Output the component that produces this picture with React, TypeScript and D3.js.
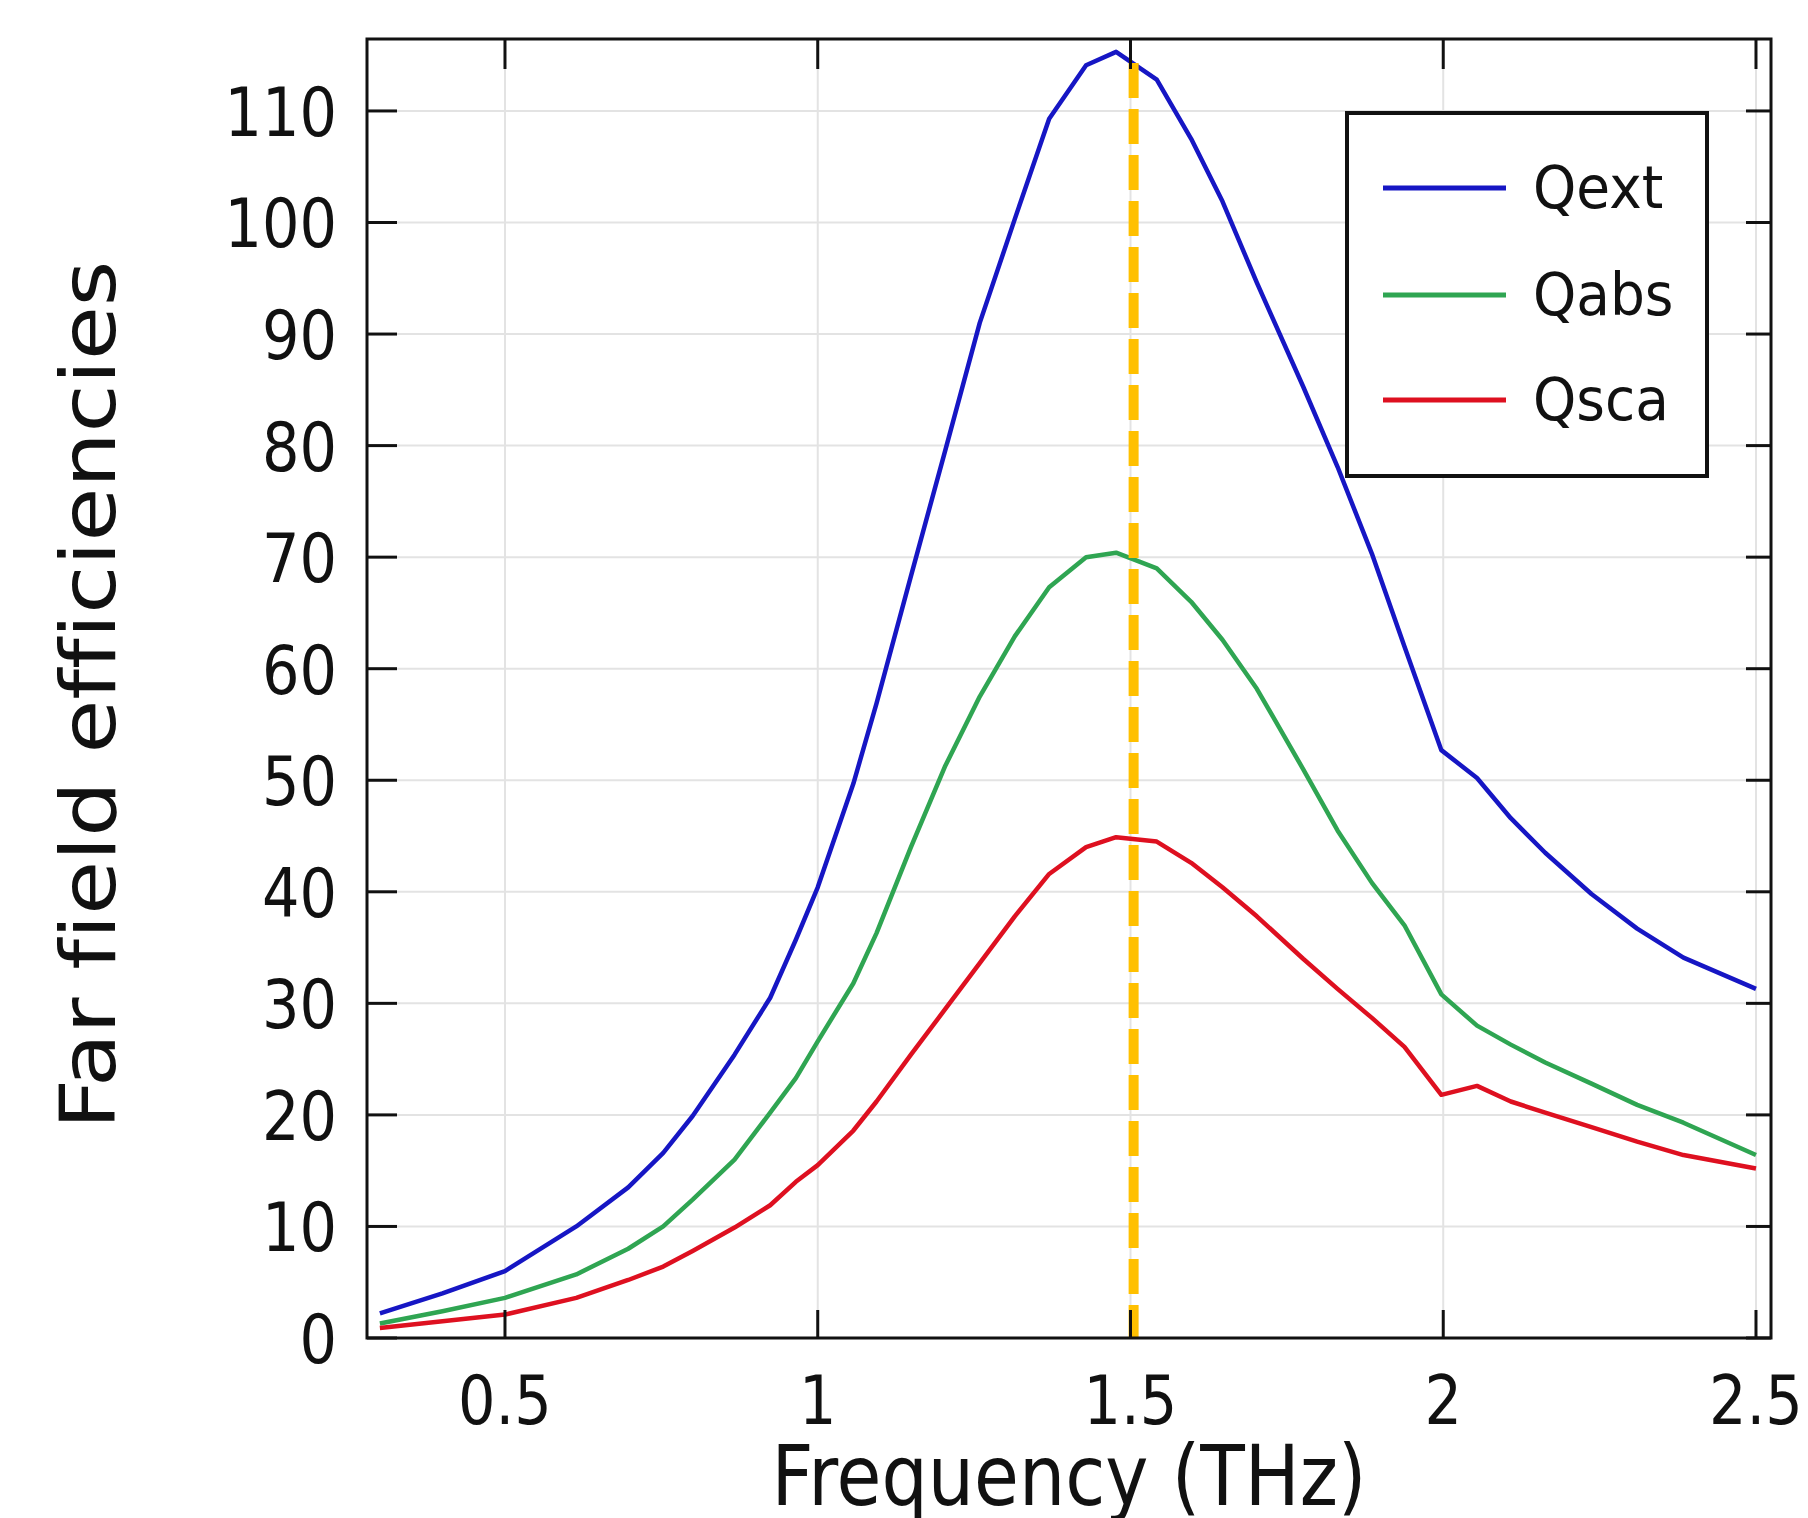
import React from 'react';
import * as d3 from 'd3';

// values
const freq = [0.3, 0.4, 0.5, 0.614, 0.697, 0.753, 0.8, 0.867, 0.924, 0.965, 1.0, 1.057, 1.094, 1.149, 1.204, 1.259, 1.315, 1.37, 1.429, 1.477, 1.542, 1.597, 1.647, 1.702, 1.776, 1.831, 1.886, 1.938, 1.997, 2.054, 2.108, 2.163, 2.237, 2.31, 2.384, 2.5];
const qext = [2.2, 4.0, 6.0, 10.0, 13.5, 16.6, 19.9, 25.4, 30.5, 35.7, 40.4, 49.7, 56.9, 68.3, 79.6, 91.0, 100.3, 109.3, 114.1, 115.3, 112.8, 107.5, 101.9, 94.6, 85.3, 78.1, 70.3, 62.0, 52.7, 50.2, 46.6, 43.5, 39.8, 36.7, 34.1, 31.3];
const qabs = [1.3, 2.4, 3.6, 5.7, 8.0, 10.0, 12.4, 16.0, 20.2, 23.3, 26.6, 31.8, 36.3, 44.0, 51.3, 57.5, 62.9, 67.3, 70.0, 70.4, 69.0, 66.0, 62.6, 58.2, 51.0, 45.5, 40.8, 37.0, 30.8, 28.0, 26.3, 24.7, 22.8, 20.9, 19.3, 16.4];
const qsca = [0.9, 1.5, 2.1, 3.6, 5.2, 6.4, 7.8, 9.9, 11.9, 14.0, 15.5, 18.6, 21.2, 25.4, 29.5, 33.6, 37.8, 41.6, 44.0, 44.9, 44.5, 42.6, 40.4, 37.8, 34.0, 31.3, 28.7, 26.1, 21.8, 22.6, 21.2, 20.2, 18.9, 17.6, 16.4, 15.2];

const seriesNames = ['Qext', 'Qabs', 'Qsca'];
const seriesColors = ['#1616c4', '#2fa552', '#de1020'];

const xTicks = [0.5, 1, 1.5, 2, 2.5];
const xTickLabels = ['0.5', '1', '1.5', '2', '2.5'];
const yTicks = [0, 10, 20, 30, 40, 50, 60, 70, 80, 90, 100, 110];

const markerFreq = 1.505;
const markerTop = 114.3;

const W = 1808;
const H = 1518;
const left = 367, right = 1771, top = 39, bottom = 1338;
const FONT = '"DejaVu Sans", Verdana, sans-serif';
const textStyle = { fontVariantLigatures: 'none', fontFeatureSettings: '"liga" 0' } as React.CSSProperties;

const x = d3.scaleLinear().domain([0.2794, 2.524]).range([left, right]);
const y = d3.scaleLinear().domain([0, 116.45]).range([bottom, top]);

const App = () => {
  const series = [qext, qabs, qsca];
  const line = d3.line<number>()
    .x((_, i) => x(freq[i]))
    .y(d => y(d));

  const legendRows = [188, 295, 400];

  return (
    <svg width={W} height={H} style={{ position: 'absolute', left: 0, top: 0, background: '#fff' }}>
      <rect x={0} y={0} width={W} height={H} fill="#fff" />

      {/* grid */}
      {xTicks.map(t => (
        <line key={'gx' + t} x1={x(t)} x2={x(t)} y1={top} y2={bottom} stroke="#e3e3e3" strokeWidth={2} />
      ))}
      {yTicks.map(t => (
        <line key={'gy' + t} x1={left} x2={right} y1={y(t)} y2={y(t)} stroke="#e3e3e3" strokeWidth={2} />
      ))}

      {/* curves */}
      {series.map((s, i) => (
        <path key={seriesNames[i]} d={line(s) || ''} fill="none" stroke={seriesColors[i]}
          strokeWidth={4.5} strokeLinejoin="round" />
      ))}

      {/* resonance marker */}
      <line x1={x(markerFreq)} x2={x(markerFreq)} y1={y(markerTop)} y2={bottom}
        stroke="#ffc000" strokeWidth={10} strokeDasharray="35 11" />

      {/* frame and ticks */}
      <rect x={left} y={top} width={right - left} height={bottom - top} fill="none" stroke="#111" strokeWidth={3} />
      {xTicks.map(t => (
        <g key={'tx' + t}>
          <line x1={x(t)} x2={x(t)} y1={bottom} y2={bottom - 28} stroke="#111" strokeWidth={3} />
          <line x1={x(t)} x2={x(t)} y1={top} y2={top + 30} stroke="#111" strokeWidth={3} />
        </g>
      ))}
      {yTicks.map(t => (
        <g key={'ty' + t}>
          <line x1={left} x2={left + 30} y1={y(t)} y2={y(t)} stroke="#111" strokeWidth={3} />
          <line x1={right} x2={right - 25} y1={y(t)} y2={y(t)} stroke="#111" strokeWidth={3} />
        </g>
      ))}

      {/* tick labels */}
      {xTicks.map((t, i) => (
        <g key={'lx' + t} transform={`translate(${x(t)},1424) scale(1,1.15)`}>
          <text textAnchor="middle" fontFamily={FONT} fontSize={59} fill="#111">{xTickLabels[i]}</text>
        </g>
      ))}
      {yTicks.map(t => (
        <g key={'ly' + t} transform={`translate(337,${y(t) + 25}) scale(1,1.15)`}>
          <text textAnchor="end" fontFamily={FONT} fontSize={59} fill="#111">{t}</text>
        </g>
      ))}

      {/* axis titles */}
      <g transform={`translate(${(left + right) / 2},1505) scale(1,1.15)`}>
        <text textAnchor="middle" fontFamily={FONT} fontSize={73} fill="#111" style={textStyle}>Frequency (THz)</text>
      </g>
      <g transform="translate(115,695) scale(1,1.15) rotate(-90)">
        <text textAnchor="middle" fontFamily={FONT} fontSize={76} fill="#111" style={textStyle}>Far field efficiencies</text>
      </g>

      {/* legend */}
      <rect x={1347} y={113} width={360} height={363} fill="#fff" stroke="#111" strokeWidth={4} />
      {seriesNames.map((name, i) => (
        <g key={'lg' + name}>
          <line x1={1383} x2={1506} y1={legendRows[i]} y2={legendRows[i]} stroke={seriesColors[i]} strokeWidth={5} />
          <g transform={`translate(1533,${legendRows[i] + 20}) scale(1,1.07)`}>
            <text fontFamily={FONT} fontSize={55} fill="#111">{name}</text>
          </g>
        </g>
      ))}
    </svg>
  );
};

export default App;
